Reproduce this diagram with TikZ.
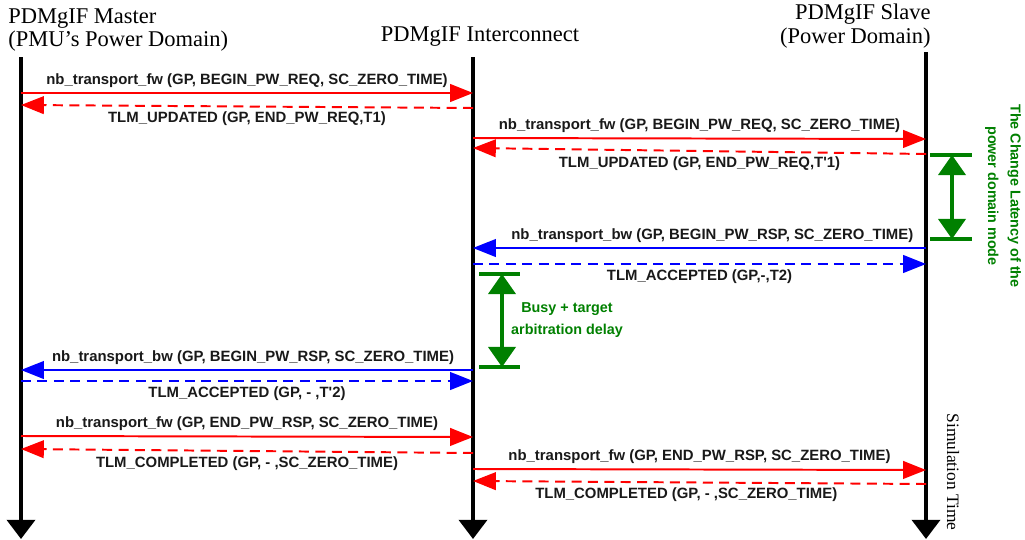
\documentclass[tikz,border=0pt]{standalone}
\usepackage{fontspec}
\setmainfont{Liberation Serif}
\newfontfamily\lblfont{Liberation Sans}
\usepackage{tikz}
\usetikzlibrary{arrows.meta, calc}
\definecolor{msgred}{RGB}{255,0,0}
\definecolor{msgblue}{RGB}{0,0,255}
\definecolor{latgreen}{RGB}{0,128,0}
\tikzset{
  lifeline/.style={line width=2.8pt, black, -{Triangle[length=0.48cm, width=0.7cm]}},
  fwd/.style={line width=1.4pt, color=msgred, -{Triangle[length=0.57cm, width=0.44cm]}},
  fwdret/.style={fwd, dash pattern=on 0.25cm off 0.16cm},
  bwd/.style={line width=1.4pt, color=msgblue, -{Triangle[length=0.57cm, width=0.44cm]}},
  bwdret/.style={bwd, dash pattern=on 0.25cm off 0.16cm},
  msg/.style={font=\lblfont\bfseries\fontsize{10.6}{12}\selectfont, text=black!90},
  hdr/.style={font=\fontsize{16}{16.5}\selectfont, inner sep=0pt},
  span/.style={line width=2.2pt, color=latgreen, {Triangle[length=0.5cm, width=0.68cm]}-{Triangle[length=0.5cm, width=0.68cm]}},
  bar/.style={line width=2.2pt, color=latgreen},
  note/.style={font=\lblfont\bfseries\fontsize{10.2}{16}\selectfont, text=latgreen}
}
\begin{document}
\begin{tikzpicture}[x=0.025cm, y=-0.025cm]
  \useasboundingbox (0,0) rectangle (1025,539);

  % Headers
  \node[hdr, align=left, anchor=west] (mhdr) at (8,30) {PDMgIF Master\\(PMU’s Power Domain)};
  \node[hdr] (ichdr) at (480,37) {PDMgIF Interconnect};
  \node[hdr, align=right, anchor=east] (shdr) at (931,26) {PDMgIF Slave\\(Power Domain)};

  % Lifelines
  \coordinate (mst) at (21,57);
  \coordinate (ic) at (473,57);
  \coordinate (slv) at (926,52);
  \coordinate (mstb) at (21,539);
  \coordinate (icb) at (473,539);
  \coordinate (slvb) at (926,539);
  \draw[lifeline] (mst) -- (mstb);
  \draw[lifeline] (ic) -- (icb);
  \draw[lifeline] (slv) -- (slvb);

  % Power request
  \draw[fwd] (mst |- 0,93) -- (ic |- 0,93)
    node[msg, midway, above] (l1) {nb\_transport\_fw (GP, BEGIN\_PW\_REQ, SC\_ZERO\_TIME)};
  \draw[fwdret] (ic |- 0,108) -- (mst |- 0,105)
    node[msg, midway, below] (l2) {TLM\_UPDATED (GP, END\_PW\_REQ,T1)};
  \draw[fwd] (ic |- 0,138) -- (slv |- 0,139)
    node[msg, midway, above] (l3) {nb\_transport\_fw (GP, BEGIN\_PW\_REQ, SC\_ZERO\_TIME)};
  \draw[fwdret] (slv |- 0,154) -- (ic |- 0,148)
    node[msg, midway, below] (l4) {TLM\_UPDATED (GP, END\_PW\_REQ,T'1)};

  % Power response from slave
  \draw[bwd] (slv |- 0,248) -- (ic |- 0,248)
    node[msg, midway, above, xshift=0.32cm] (l5) {nb\_transport\_bw (GP, BEGIN\_PW\_RSP, SC\_ZERO\_TIME)};
  \draw[bwdret] (ic |- 0,264) -- (slv |- 0,264)
    node[msg, midway, below] (l6) {TLM\_ACCEPTED (GP,-,T2)};

  % Power response to master
  \draw[bwd] (ic |- 0,370) -- (mst |- 0,370)
    node[msg, midway, above, xshift=0.15cm] (l7) {nb\_transport\_bw (GP, BEGIN\_PW\_RSP, SC\_ZERO\_TIME)};
  \draw[bwdret] (mst |- 0,381) -- (ic |- 0,381)
    node[msg, midway, below] (l8) {TLM\_ACCEPTED (GP, - ,T'2)};

  % End of response
  \draw[fwd] (mst |- 0,436) -- (ic |- 0,437)
    node[msg, midway, above] (l9) {nb\_transport\_fw (GP, END\_PW\_RSP, SC\_ZERO\_TIME)};
  \draw[fwdret] (ic |- 0,453) -- (mst |- 0,449)
    node[msg, midway, below] (l10) {TLM\_COMPLETED (GP, - ,SC\_ZERO\_TIME)};
  \draw[fwd] (ic |- 0,469) -- (slv |- 0,470)
    node[msg, midway, above] (l11) {nb\_transport\_fw (GP, END\_PW\_RSP, SC\_ZERO\_TIME)};
  \draw[fwdret] (slv |- 0,484) -- (ic |- 0,481)
    node[msg, midway, below, xshift=-0.33cm] (l12) {TLM\_COMPLETED (GP, - ,SC\_ZERO\_TIME)};

  % Latency of the power domain mode
  \coordinate (lat1) at (952,155);
  \coordinate (lat2) at (952,239);
  \draw[bar] (930,155) -- (972,155);
  \draw[bar] (930,239) -- (972,239);
  \draw[span] (lat1) -- (lat2);
  \node[note, rotate=-90, align=center] (latnote) at (1003,196)
    {The Change Latency of the\\power domain mode};

  % Busy + arbitration delay
  \coordinate (arb1) at (502,274);
  \coordinate (arb2) at (502,367);
  \draw[bar] (479,274) -- (520,274);
  \draw[bar] (479,367) -- (520,367);
  \draw[span] (arb1) -- (arb2);
  \node[note, align=center] (arbnote) at (567,320) {Busy + target\\arbitration delay};

  % Time axis
  \node[rotate=-90, font=\fontsize{12.4}{14}\selectfont] (simt) at (953,472) {Simulation Time};
\end{tikzpicture}
\end{document}
